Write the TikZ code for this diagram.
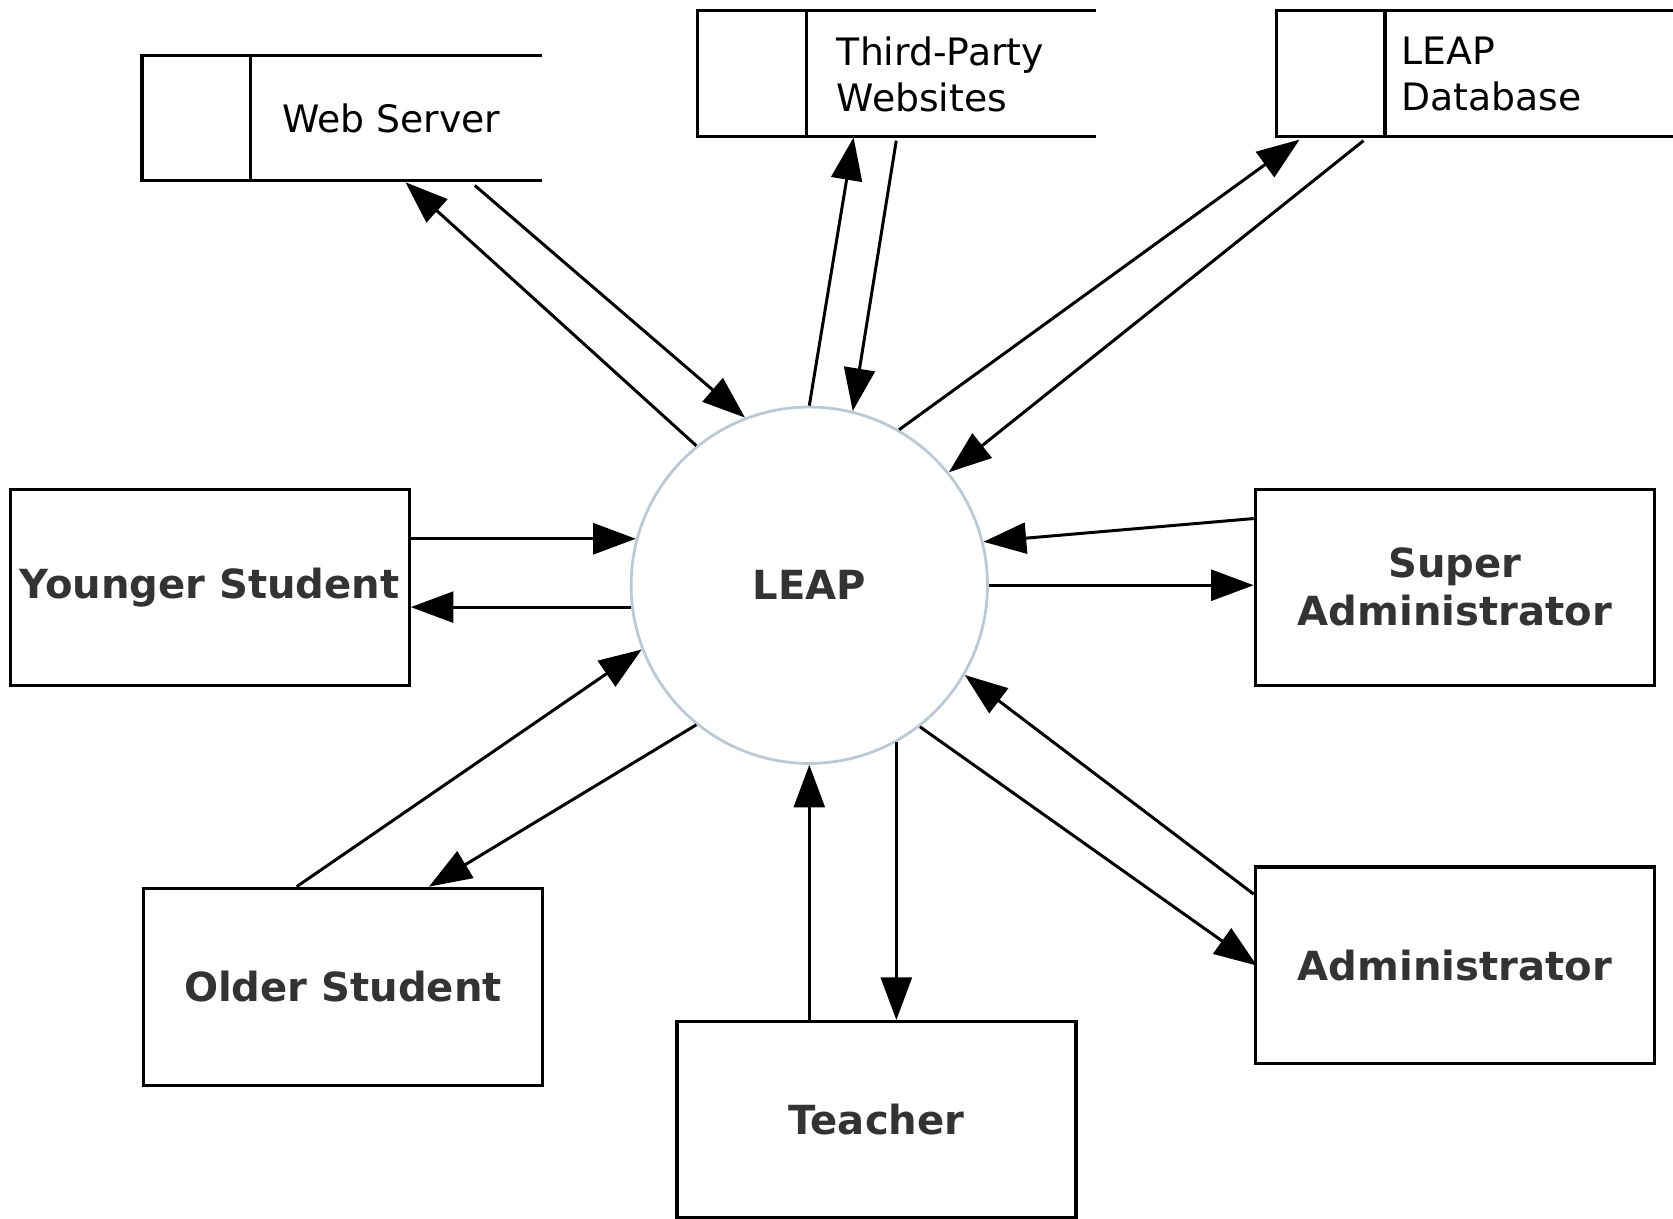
\documentclass[tikz,border=0pt]{standalone}
\usepackage{fontspec}
\setmainfont{DejaVu Sans}
\usetikzlibrary{arrows.meta,calc}
\definecolor{txt}{HTML}{333333}
\definecolor{ring}{HTML}{B8CADA}
\begin{document}
\begin{tikzpicture}[x=0.5pt,y=-0.5pt,
  ent/.style={draw=black,line width=1.5pt,minimum width=187pt,minimum height=92pt,inner sep=0pt,
    font=\bfseries\fontsize{18.8}{22.5}\selectfont,text=txt,align=center},
  store/.style={inner sep=0pt,minimum width=186pt,minimum height=58.5pt,anchor=north west},
  storeline/.style={line width=1.5pt},
  flow/.style={line width=1.4pt,-{Triangle[length=20pt,width=14.5pt]}},
  lbl/.style={font=\fontsize{17.7}{21.5}\selectfont,align=left,anchor=west,inner sep=0pt}]

\useasboundingbox (0,0) rectangle (1568,1142);

% data stores
\node[store,minimum width=187pt,minimum height=58pt] (ws) at (133,52) {};
\node[store] (tp) at (654,10) {};
\node[store] (db) at (1196,10) {};
\foreach \s in {ws,tp,db}{
  \draw[storeline] (\s.north east) -- (\s.north west) -- (\s.south west) -- (\s.south east);
  \draw[storeline] ($(\s.north west)+(102,0)$) -- ($(\s.south west)+(102,0)$);
}
\node[lbl] (wst) at (264,111) {Web Server};
\node[lbl] (tpt) at (784,69.5) {Third-Party\\Websites};
\node[lbl] (dbt) at (1313,69.5) {LEAP\\Database};

% process
\node[circle,draw=ring,line width=1.3pt,minimum size=167pt,inner sep=0pt,
  font=\bfseries\fontsize{18.8}{22}\selectfont,text=txt] (leap) at (758.5,548.5) {LEAP};

% entities
\node[ent,anchor=north west] (ys) at (8,457) {Younger Student};
\node[ent,anchor=north west,minimum height=92.5pt] (os) at (133,831) {Older Student};
\node[ent,anchor=north west] (tb) at (633,956) {Teacher};
\node[ent,anchor=north west] (sa) at (1175,457) {Super\\Administrator};
\node[ent,anchor=north west] (ad) at (1175,811) {Administrator};

% flows
\draw[flow] (leap.129.2) -- ($(ws.south west)+(247,2)$);
\draw[flow] ($(ws.south west)+(312,5)$) -- (leap.111.3);
\draw[flow] (leap.90) -- ($(tp.south west)+(146,1)$);
\draw[flow] ($(tp.south west)+(186,4)$) -- (leap.76.6);
\draw[flow] (leap.60.1) -- ($(db.south west)+(22,3)$);
\draw[flow] ($(db.south west)+(82,4)$) -- (leap.39.3);

\draw[flow] (leap.165 -| ys.east) -- (leap.165);
\draw[flow] (leap.187) -- (leap.187 -| ys.east);
\draw[flow] ($(os.north west)+(145,0)$) -- (leap.201.3);
\draw[flow] (leap.231) -- ($(os.north west)+(269,0)$);
\draw[flow] (leap.270 |- tb.north) -- (leap.270);
\draw[flow] (leap.299.6) -- (leap.299.6 |- tb.north);
\draw[flow] ($(sa.north west)+(0,29)$) -- (leap.14.5);
\draw[flow] (leap.0) -- (leap.0 -| sa.west);
\draw[flow] ($(ad.north west)+(0,27)$) -- (leap.330.2);
\draw[flow] (leap.308.2) -- ($(ad.north west)+(3,94)$);
\end{tikzpicture}
\end{document}
